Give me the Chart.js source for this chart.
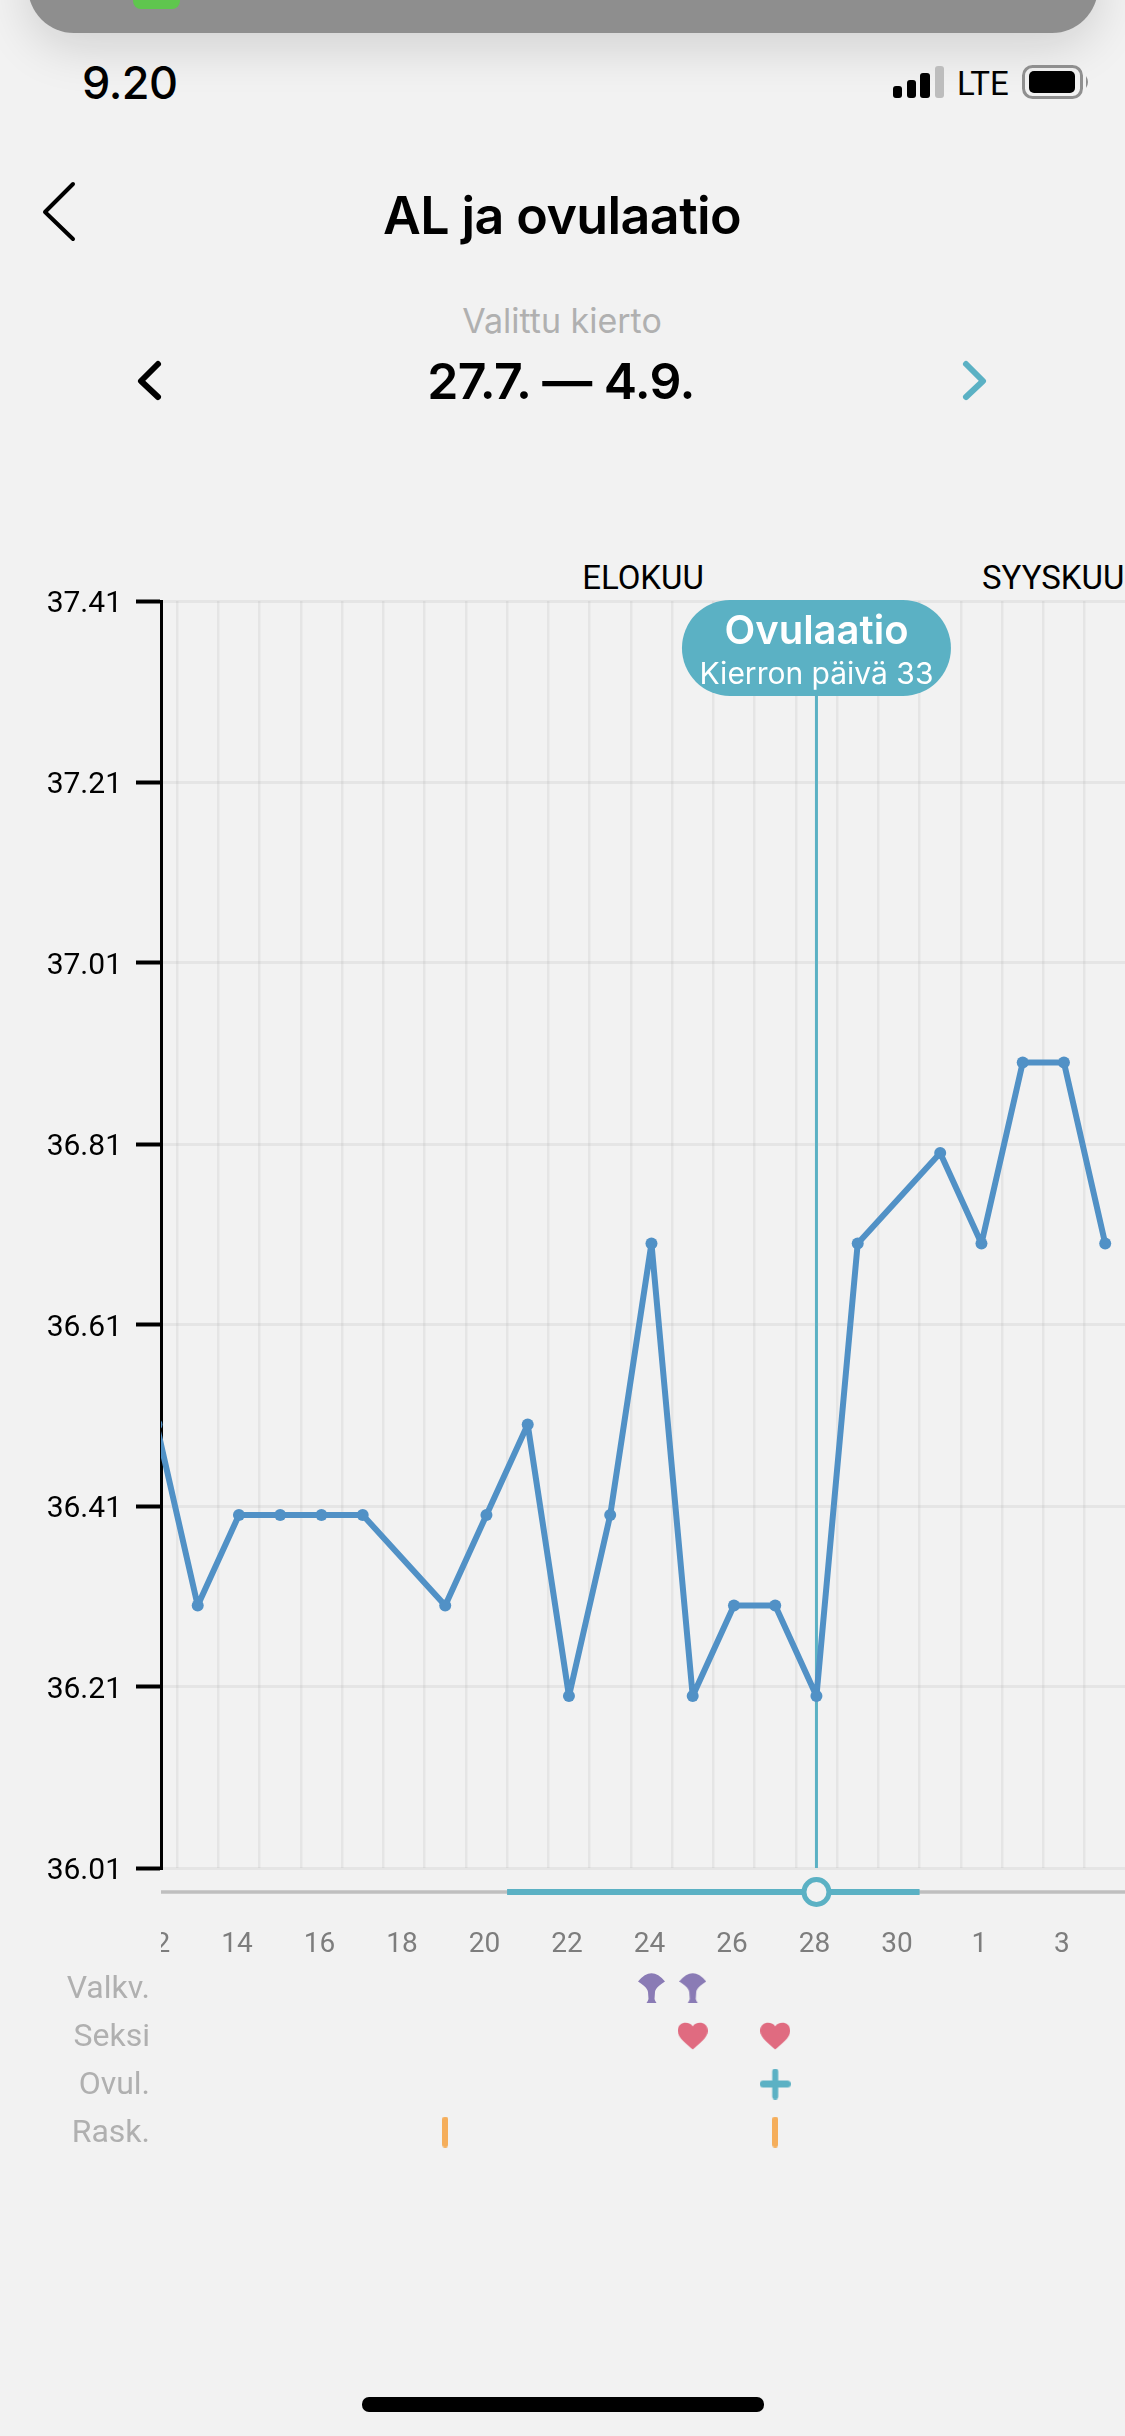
<!DOCTYPE html>
<html lang="fi">
<head>
<meta charset="utf-8">
<title>AL ja ovulaatio</title>
<script src="https://cdn.jsdelivr.net/npm/chart.js@4"></script>
<style>
html, body { margin: 0; padding: 0; background: #f2f2f2; }
body { position: relative; width: 1125px; height: 2436px; overflow: hidden; font-family: Inter, Roboto, sans-serif; color: #000; }
.abs { position: absolute; white-space: nowrap; line-height: 1; }
.mid { transform: translate(-50%, -50%); }
canvas { position: absolute; left: 0; }
#banner { position: absolute; left: 28px; top: -60px; width: 1070px; height: 93px; background: #8e8e8e; border-radius: 0 0 46px 46px; box-shadow: 0 14px 50px rgba(0, 0, 0, 0.14); }
#appIcon { position: absolute; left: 133px; top: -20px; width: 47px; height: 29px; background: #5fc64e; border-radius: 8px; }
#homeBar { position: absolute; left: 362px; top: 2397px; width: 402px; height: 15px; background: #000; border-radius: 7px; }
svg { position: absolute; left: 0; top: 0; }
</style>
</head>
<body>
<div id="banner"></div>
<div id="appIcon"></div>
<div class="abs" style="left:82px;top:60px;font-size:45px;font-weight:500;letter-spacing:-0.5px">9.20</div>
<div class="abs" style="left:957px;top:67px;font-size:33px;font-family:Roboto">LTE</div>
<svg width="1125" height="480" fill="none">
	<rect x="893" y="86" width="9" height="12" rx="3" fill="#000"/>
	<rect x="907" y="80" width="9" height="18" rx="3" fill="#000"/>
	<rect x="920" y="73" width="10" height="25" rx="3" fill="#000"/>
	<rect x="935" y="66" width="9" height="32" rx="3" fill="#bdbdbd"/>
	<rect x="1023.5" y="66.5" width="58" height="31" rx="9" stroke="#8f8f8f" stroke-width="3"/>
	<rect x="1029" y="71" width="46" height="22" rx="5" fill="#000"/>
	<path d="M1086 76 Q1090 82 1086 88 Z" fill="#8f8f8f"/>
	<path d="M73 184 L45 212 L73 239" stroke="#000" stroke-width="4" stroke-linecap="round" stroke-linejoin="round"/>
	<path d="M158 364 L141 381 L158 397" stroke="#000" stroke-width="6" stroke-linecap="round" stroke-linejoin="round"/>
	<path d="M966 364 L983 381 L966 397" stroke="#5bb1c4" stroke-width="6" stroke-linecap="round" stroke-linejoin="round"/>
</svg>
<div class="abs mid" style="left:562px;top:216px;font-size:52px;font-weight:600;letter-spacing:-0.6px">AL ja ovulaatio</div>
<div class="abs mid" style="left:562px;top:321px;font-size:34px;color:#b0b0b0">Valittu kierto</div>
<div class="abs mid" style="left:561px;top:381px;font-size:50px;font-weight:600;letter-spacing:-0.6px">27.7. — 4.9.</div>
<div class="abs mid" style="left:643px;top:577px;font-size:33px;font-family:Roboto">ELOKUU</div>
<div class="abs" style="left:982px;top:561px;font-size:33px;font-family:Roboto">SYYSKUU</div>

<canvas id="tempChart" width="1125" height="1320" style="top:560px"></canvas>
<canvas id="rowChart" width="1125" height="300" style="top:1860px"></canvas>
<div id="homeBar"></div>

<script>
// paivat 12.8. - 4.9.
const days = [12, 13, 14, 15, 16, 17, 18, 19, 20, 21, 22, 23, 24, 25, 26, 27, 28, 29, 30, 31, 1, 2, 3, 4];
const temps = [36.5, 36.3, 36.4, 36.4, 36.4, 36.4, null, 36.3, 36.4, 36.5, 36.2, 36.4, 36.7, 36.2, 36.3, 36.3, 36.2, 36.7, null, 36.8, 36.7, 36.9, 36.9, 36.7];
const tempMin = 36.01;
const tempMax = 37.41;
const tempStep = 0.2;

// positions in the days array
const xMin = 0.11;
const xMax = 23.48;
const ovulationIndex = 16;
const fertileWindow = [8.5, 18.5];

const rows = ["slider", "axis", "Valkv.", "Seksi", "Ovul.", "Rask."];
const valkvDays = [12, 13];
const seksiDays = [13, 15];
const ovulDays = [15];
const raskDays = [7, 15];

const bubbleTitle = "Ovulaatio";
const bubbleText = "Kierron päivä 33";

const TEAL = "#5bb1c4";
const BLUE = "#5191c6";
const GRID = "rgba(0, 0, 0, 0.05)";
const BG = "#f2f2f2";

function symbol(w, h, draw) {
	const c = document.createElement("canvas");
	c.width = w;
	c.height = h;
	draw(c.getContext("2d"));
	return c;
}

const valkvIcon = symbol(27, 30, (ctx) => {
	ctx.fillStyle = "#8a7bb5";
	ctx.beginPath();
	ctx.moveTo(0, 8.5);
	ctx.quadraticCurveTo(13.5, -8, 27, 8.5);
	ctx.bezierCurveTo(22, 12, 17.5, 15, 17, 19);
	ctx.lineTo(16.5, 26);
	ctx.quadraticCurveTo(17, 28, 18.5, 30);
	ctx.lineTo(8.5, 30);
	ctx.quadraticCurveTo(10, 28, 10.5, 26);
	ctx.lineTo(10, 19);
	ctx.bezierCurveTo(9.5, 15, 5, 12, 0, 8.5);
	ctx.fill();
});

const heartIcon = symbol(30, 28, (ctx) => {
	ctx.fillStyle = "#e06b80";
	ctx.beginPath();
	ctx.moveTo(15, 4.5);
	ctx.bezierCurveTo(12, -1, 0, -1, 0, 9);
	ctx.bezierCurveTo(0, 16, 9, 22, 15, 27.5);
	ctx.bezierCurveTo(21, 22, 30, 16, 30, 9);
	ctx.bezierCurveTo(30, -1, 18, -1, 15, 4.5);
	ctx.fill();
});

const plusIcon = symbol(31, 31, (ctx) => {
	ctx.fillStyle = TEAL;
	ctx.beginPath();
	ctx.roundRect(12.5, 0, 6, 31, 3);
	ctx.roundRect(0, 12, 31, 7, 3.5);
	ctx.fill();
});

const raskIcon = symbol(6, 31, (ctx) => {
	ctx.fillStyle = "#f5ae5b";
	ctx.beginPath();
	ctx.roundRect(0, 0, 6, 31, 3);
	ctx.fill();
});

const bubblePlugin = {
	id: "bubble",
	afterDatasetsDraw(chart) {
		const ctx = chart.ctx;
		const x = chart.scales.x.getPixelForValue(ovulationIndex);
		const top = chart.chartArea.top - 1;
		ctx.save();
		ctx.fillStyle = TEAL;
		ctx.beginPath();
		ctx.roundRect(x - 134.5, top, 269, 96, 48);
		ctx.fill();
		ctx.fillStyle = "#fff";
		ctx.textAlign = "center";
		ctx.textBaseline = "middle";
		ctx.font = "600 40px Inter";
		ctx.fillText(bubbleTitle, x, top + 32);
		ctx.font = "30px Inter";
		ctx.fillText(bubbleText, x, top + 75);
		ctx.restore();
	},
};

new Chart(document.getElementById("tempChart"), {
	type: "line",
	data: {
		datasets: [
			{
				data: temps.map((t, i) => ({ x: i, y: t })),
				borderColor: BLUE,
				backgroundColor: BLUE,
				borderWidth: 6,
				borderJoinStyle: "round",
				pointRadius: 6,
				pointBorderWidth: 0,
				spanGaps: true,
				tension: 0,
			},
			{
				data: [{ x: ovulationIndex, y: tempMin }, { x: ovulationIndex, y: tempMax }],
				borderColor: TEAL,
				borderWidth: 3,
				pointRadius: 0,
				order: 1,
			},
		],
	},
	options: {
		responsive: false,
		animation: false,
		devicePixelRatio: 1,
		layout: { autoPadding: false, padding: { top: 41, bottom: 12, left: 0, right: 0 } },
		plugins: { legend: { display: false }, tooltip: { enabled: false } },
		scales: {
			x: {
				type: "linear",
				min: xMin,
				max: xMax,
				afterBuildTicks: (scale) => {
					scale.ticks = days.map((d, i) => ({ value: i + 0.5 }));
				},
				afterFit: (scale) => {
					scale.height = 0;
					scale.paddingLeft = 0;
					scale.paddingRight = 0;
				},
				ticks: { display: false },
				border: { display: false },
				grid: { color: GRID, lineWidth: 2.5, drawTicks: false },
			},
			y: {
				min: tempMin,
				max: tempMax,
				afterFit: (scale) => {
					scale.width = 161;
					scale.paddingTop = 0;
					scale.paddingBottom = 0;
				},
				ticks: {
					stepSize: tempStep,
					padding: 14,
					labelOffset: 3,
					color: "#000",
					font: { family: "Roboto", size: 30 },
					callback: (v) => v.toFixed(2),
				},
				border: { display: true, color: "#000", width: 3 },
				grid: { color: GRID, lineWidth: 3, tickColor: "#000", tickWidth: 4, tickLength: 25 },
			},
		},
	},
	plugins: [bubblePlugin],
});

// "12" is cut by the y axis edge in the original
const labelMask = {
	id: "labelMask",
	afterDraw(chart) {
		const y = chart.scales.y.getPixelForValue("axis");
		chart.ctx.save();
		chart.ctx.fillStyle = BG;
		chart.ctx.fillRect(100, y - 30, 61, 60);
		chart.ctx.restore();
	},
};

function rowDataset(indexes, row, icon) {
	return {
		data: indexes.map((i) => ({ x: i, y: row })),
		showLine: false,
		pointStyle: icon,
		clip: false,
	};
}

new Chart(document.getElementById("rowChart"), {
	type: "line",
	data: {
		datasets: [
			{
				data: [{ x: ovulationIndex, y: "slider" }],
				showLine: false,
				pointRadius: 12.5,
				pointBorderWidth: 5,
				pointBorderColor: TEAL,
				pointBackgroundColor: BG,
				clip: false,
			},
			{
				data: fertileWindow.map((v) => ({ x: v, y: "slider" })),
				borderColor: TEAL,
				borderWidth: 6,
				pointRadius: 0,
				clip: false,
			},
			{
				data: [{ x: xMin, y: "slider" }, { x: xMax, y: "slider" }],
				borderColor: "#bfbfbf",
				borderWidth: 3.5,
				pointRadius: 0,
				clip: false,
			},
			rowDataset(valkvDays, "Valkv.", valkvIcon),
			rowDataset(seksiDays, "Seksi", heartIcon),
			rowDataset(ovulDays, "Ovul.", plusIcon),
			rowDataset(raskDays, "Rask.", raskIcon),
		],
	},
	options: {
		responsive: false,
		animation: false,
		devicePixelRatio: 1,
		layout: { autoPadding: false, padding: { top: 32, bottom: 28, left: 0, right: 0 } },
		plugins: { legend: { display: false }, tooltip: { enabled: false } },
		scales: {
			x: {
				type: "linear",
				min: xMin,
				max: xMax,
				position: { y: "axis" },
				afterBuildTicks: (scale) => {
					scale.ticks = days.map((d, i) => ({ value: i })).filter((t) => t.value % 2 === 0);
				},
				afterFit: (scale) => {
					scale.paddingLeft = 0;
					scale.paddingRight = 0;
				},
				ticks: {
					autoSkip: false,
					maxRotation: 0,
					padding: -12,
					labelOffset: -2,
					color: "#7d7d7d",
					font: { family: "Roboto", size: 28 },
					callback: (v) => days[v],
				},
				border: { display: false },
				grid: { display: false, drawTicks: false },
			},
			y: {
				type: "category",
				labels: rows,
				afterFit: (scale) => {
					scale.width = 161;
					scale.paddingTop = 0;
					scale.paddingBottom = 0;
				},
				ticks: {
					autoSkip: false,
					padding: 11,
					labelOffset: 2,
					color: "#b0b0b0",
					font: { family: "Roboto", size: 32 },
					callback: (v, i) => (i < 2 ? "" : rows[i]),
				},
				border: { display: false },
				grid: { display: false, drawTicks: false },
			},
		},
	},
	plugins: [labelMask],
});
</script>
</body>
</html>
